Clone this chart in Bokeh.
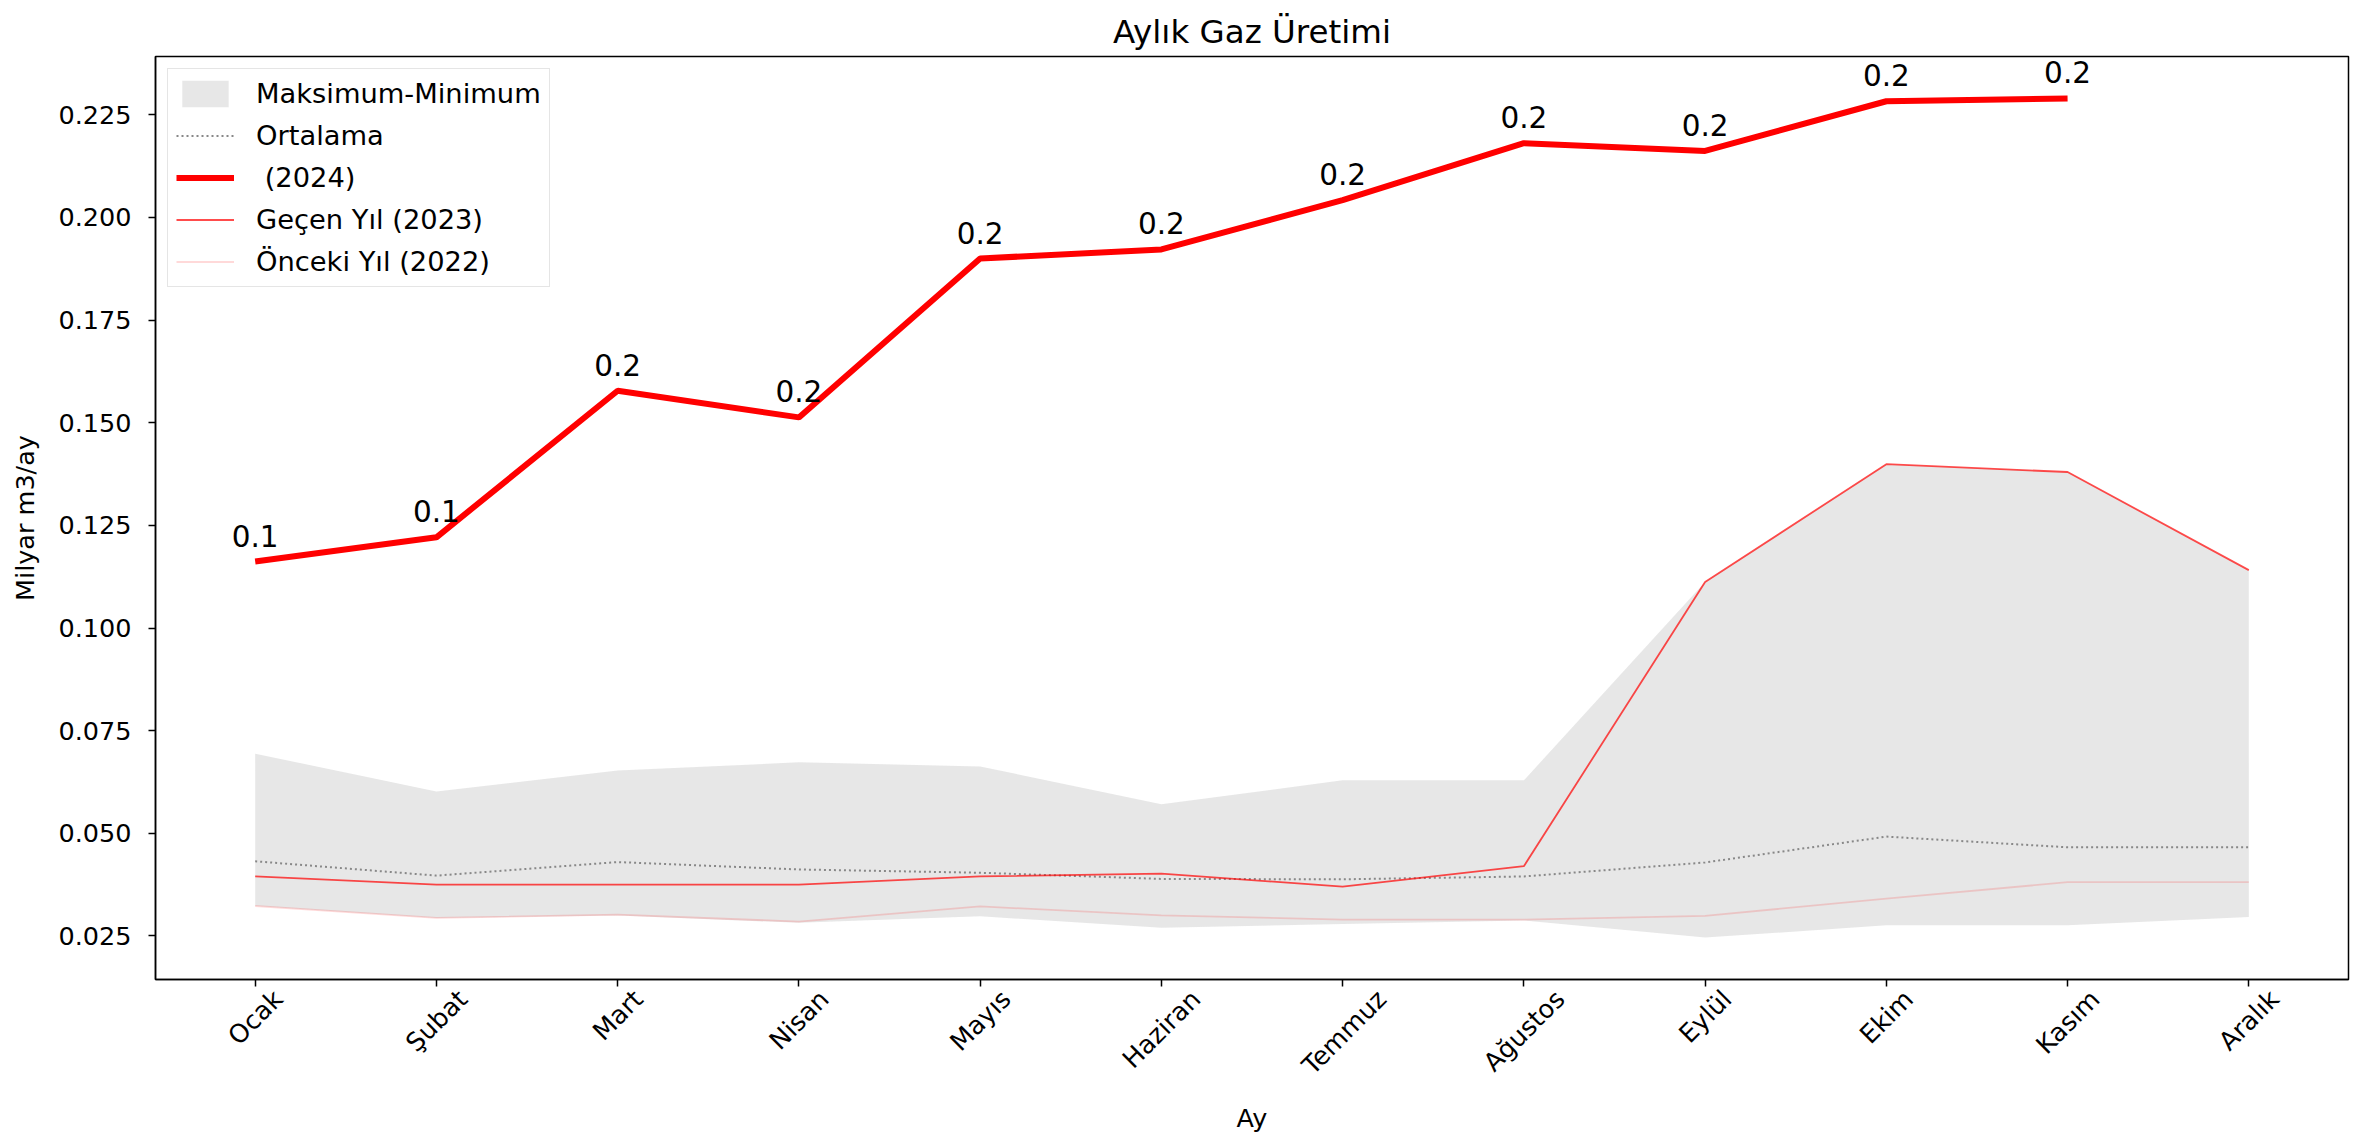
import math
from bokeh.plotting import figure
from bokeh.models import (Range1d, FixedTicker, PrintfTickFormatter, Legend, LegendItem,
                          ColumnDataSource, LabelSet)
from bokeh.core.properties import value
from bokeh.embed import file_html
from bokeh.resources import INLINE

months = ["Ocak", "Şubat", "Mart", "Nisan", "Mayıs", "Haziran", "Temmuz",
          "Ağustos", "Eylül", "Ekim", "Kasım", "Aralık"]
y2024 = [0.1162, 0.1221, 0.1578, 0.1513, 0.1900, 0.1922, 0.2042, 0.2181, 0.2162, 0.2283, 0.2290]
y2023 = [0.0395, 0.0375, 0.0375, 0.0375, 0.0395, 0.0402, 0.0370, 0.0420, 0.1112, 0.1399, 0.1380, 0.1141]
y2022 = [0.0323, 0.0294, 0.0302, 0.0285, 0.0322, 0.0300, 0.0290, 0.0290, 0.0299, 0.0341, 0.0381, 0.0381]
mean_v = [0.0432, 0.0397, 0.0430, 0.0412, 0.0404, 0.0389, 0.0388, 0.0395, 0.0429, 0.0492, 0.0466, 0.0466]
max_v = [0.0694, 0.0602, 0.0653, 0.0673, 0.0663, 0.0571, 0.0629, 0.0629, 0.1112, 0.1399, 0.1380, 0.1141]
min_v = [0.0323, 0.0294, 0.0300, 0.0282, 0.0298, 0.0270, 0.0279, 0.0288, 0.0246, 0.0276, 0.0276, 0.0296]
y_ticks = [0.025, 0.050, 0.075, 0.100, 0.125, 0.150, 0.175, 0.200, 0.225]

FONT = "DejaVu Sans"
TICK_PX = 25.5
W, H = 2356, 1142
BL, BR, BT, BB = 155, 8, 56, 163
X0, X1 = -0.55, 11.55
idx = list(range(len(months)))
idx24 = idx[:len(y2024)]

# approximate DejaVu Sans advance widths (em), used to centre the rotated month labels
_W = {'O': .787, 'c': .550, 'a': .613, 'k': .579, 'Ş': .635, 'u': .634, 'b': .635, 't': .392,
      'M': .863, 'r': .411, 'N': .748, 'i': .278, 's': .521, 'n': .634, 'y': .592, 'ı': .278,
      'H': .752, 'z': .525, 'T': .611, 'e': .615, 'm': .974, 'A': .684, 'ğ': .635, 'o': .612,
      'E': .632, 'l': .278, 'ü': .634, 'K': .656}


def text_w(s):
    return sum(_W.get(ch, 0.6) for ch in s) * TICK_PX


px_per_unit = (W - BL - BR) / (X1 - X0)
label_pos = [round(i + 0.3536 * text_w(m) / px_per_unit, 4) for i, m in zip(idx, months)]

p = figure(width=W, height=H, output_backend="svg", toolbar_location=None,
           x_range=Range1d(X0, X1), y_range=Range1d(0.0144, 0.2392),
           min_border_left=BL, min_border_right=BR, min_border_top=BT, min_border_bottom=BB)

p.title.text = "Aylık Gaz Üretimi"
p.title.align = "center"
p.title.text_font = FONT
p.title.text_font_size = "32.5px"
p.title.text_font_style = "normal"
p.title.text_color = "black"
p.title.standoff = 12

p.xgrid.visible = False
p.ygrid.visible = False
p.outline_line_color = "black"
p.outline_line_width = 1.5
p.outline_line_alpha = 1.0

band = p.varea(x=idx, y1=min_v, y2=max_v, fill_color="#d3d3d3", fill_alpha=0.55)
mean_r = p.line(idx, mean_v, line_color="#888888", line_width=2, line_dash="2 3")
r24 = p.line(idx24, y2024, line_color="red", line_width=6)
r23 = p.line(idx, y2023, line_color="red", line_width=1.8, line_alpha=0.7)
r22 = p.line(idx, y2022, line_color="red", line_width=1.8, line_alpha=0.15)

lab_src = ColumnDataSource(dict(x=idx24, y=y2024, t=[f"{v:.1f}" for v in y2024]))
p.add_layout(LabelSet(x="x", y="y", text="t", source=lab_src, text_align="center",
                      text_baseline="alphabetic", y_offset=15, text_font=value(FONT),
                      text_font_size="29.5px", text_color="black"))

xa = p.xaxis[0]
# tick marks sit on the months (minor ticks); the rotated labels are centred under them
xa.ticker = FixedTicker(ticks=label_pos, minor_ticks=idx)
xa.major_label_overrides = {pos: m for pos, m in zip(label_pos, months)}
xa.major_label_orientation = math.pi / 4
xa.axis_label = "Ay"

ya = p.yaxis[0]
ya.ticker = FixedTicker(ticks=y_ticks)
ya.formatter = PrintfTickFormatter(format="%.3f")
ya.axis_label = "Milyar m3/ay"

for ax in (xa, ya):
    ax.axis_line_color = "black"
    ax.axis_line_width = 1.5
    ax.major_tick_line_color = "black"
    ax.major_tick_line_width = 1.5
    ax.major_tick_out = 7
    ax.major_tick_in = 0
    ax.minor_tick_out = 0
    ax.minor_tick_in = 0
    ax.major_label_text_font = FONT
    ax.major_label_text_font_size = f"{TICK_PX}px"
    ax.major_label_text_color = "black"
    ax.axis_label_text_font = FONT
    ax.axis_label_text_font_size = f"{TICK_PX}px"
    ax.axis_label_text_font_style = "normal"
    ax.axis_label_text_color = "black"

xa.major_tick_line_color = None
xa.minor_tick_line_color = "black"
xa.minor_tick_line_width = 1.5
xa.minor_tick_out = 7
xa.major_label_standoff = 8
xa.axis_label_standoff = 9

ya.major_label_standoff = 17
ya.axis_label_standoff = 15

legend = Legend(items=[
    LegendItem(label="Maksimum-Minimum", renderers=[band]),
    LegendItem(label="Ortalama", renderers=[mean_r]),
    LegendItem(label=" (2024)", renderers=[r24]),
    LegendItem(label="Geçen Yıl (2023)", renderers=[r23]),
    LegendItem(label="Önceki Yıl (2022)", renderers=[r22]),
], location="top_left")
legend.margin = 12
legend.padding = 8
legend.spacing = 9
legend.label_height = 33
legend.glyph_height = 33
legend.glyph_width = 58
legend.label_standoff = 22
legend.label_text_font = FONT
legend.label_text_font_size = "27.3px"
legend.label_text_color = "black"
legend.border_line_color = "#cccccc"
legend.border_line_width = 1.5
legend.background_fill_color = "white"
legend.background_fill_alpha = 0.8
p.add_layout(legend)

open("out.html", "w").write(file_html(p, INLINE))
